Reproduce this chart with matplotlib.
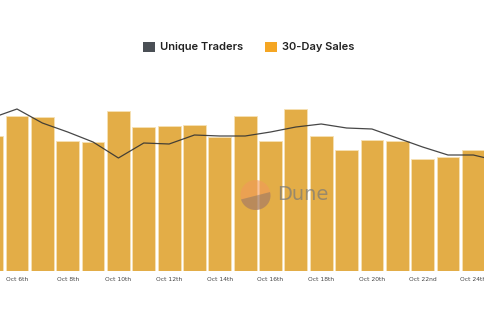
import matplotlib
matplotlib.use("Agg")
import matplotlib.pyplot as plt
import numpy as np
from matplotlib.patches import Patch, Circle, Polygon

# daily values, Oct 5th .. Oct 24th
days = list(range(5, 25))
sales_30d = [135, 155, 154, 130, 129, 160, 144, 145, 146, 134,
             155, 130, 162, 135, 121, 131, 130, 112, 114, 121]
# unique traders, Oct 5th .. Oct 25th
trader_days = list(range(5, 26))
traders = [153, 162, 148, 139, 129, 113, 128, 127, 136, 135, 135,
           139, 144, 147, 143, 142, 133, 124, 116, 116, 110]
tick_days = [6, 8, 10, 12, 14, 16, 18, 20, 22, 24]
tick_labels = ["Oct 6th", "Oct 8th", "Oct 10th", "Oct 12th", "Oct 14th",
               "Oct 16th", "Oct 18th", "Oct 20th", "Oct 22nd", "Oct 24th"]

bar_color = "#E3AD47"
line_color = "#333333"

W, H = 485, 327
fig = plt.figure(figsize=(W / 100, H / 100), dpi=100)
fig.patch.set_facecolor("white")

# axes runs off both sides of the figure (cropped chart)
ax = fig.add_axes([0, 56 / H, 1, (271 - 80) / H])
ax.bar(days, sales_30d, width=0.9, color=bar_color,
       edgecolor="#f6e2b4", linewidth=0.6, zorder=2)
ax.set_xlim(5.33, 24.46)
ax.set_ylim(0, 191)
ax.set_xticks(tick_days)
ax.set_xticklabels(tick_labels, fontsize=4.3, color="#444444")
ax.tick_params(axis="x", length=0, pad=4)
ax.set_yticks([])
for s in ax.spines.values():
    s.set_visible(False)

ax2 = ax.twinx()
ax2.plot(trader_days, traders, color=line_color, lw=0.9, alpha=0.9, zorder=3)
ax2.set_ylim(0, 191)
ax2.set_yticks([])
for s in ax2.spines.values():
    s.set_visible(False)

# legend
handles = [Patch(facecolor="#4a4f55", edgecolor="none", label="Unique Traders"),
           Patch(facecolor="#F5A623", edgecolor="none", label="30-Day Sales")]
leg = fig.legend(handles=handles, loc="center", bbox_to_anchor=(249 / W, 1 - 47 / H),
                 ncol=2, frameon=False, handlelength=1.05, handleheight=1.05,
                 handletextpad=0.45, columnspacing=2.0,
                 prop={"family": "Inter", "weight": "semibold", "size": 8})
for t in leg.get_texts():
    t.set_color("#222222")

# Dune watermark
wax = fig.add_axes([(255.5 - 15) / W, 1 - (195 + 15) / H, 30 / W, 30 / H])
wax.set_xlim(-1, 1)
wax.set_ylim(-1, 1)
wax.axis("off")
wax.add_patch(Circle((0, 0), 1, color="#F2995A", alpha=0.6, lw=0))
ang = np.radians(np.linspace(195, 375, 60))
wax.add_patch(Polygon(np.c_[np.cos(ang), np.sin(ang) * 0.95 - 0.05],
                      closed=True, color="#7d7068", alpha=0.45, lw=0))
fig.text(277 / W, 1 - 195 / H, "Dune", fontsize=14, color="#7a7a7a",
         alpha=0.7, va="center", ha="left", family="DejaVu Sans")

fig.savefig("out.png", dpi=100)
